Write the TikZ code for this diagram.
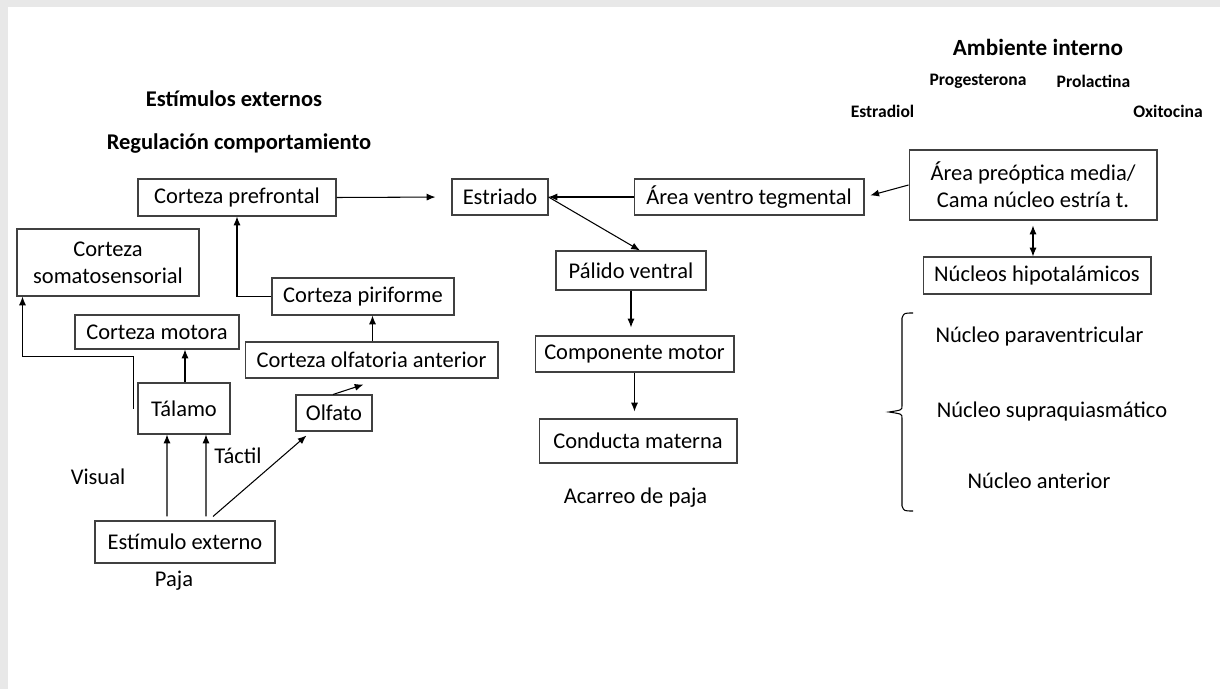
\documentclass[tikz,border=0pt]{standalone}
\usepackage{fontspec}
\setmainfont{Carlito}
\usepackage{tikz}
\usetikzlibrary{positioning, arrows.meta}

\begin{document}
\begin{tikzpicture}[
    x=0.02cm, y=-0.02cm,
    box/.style={draw=black!75, line width=0.6pt, rectangle, inner sep=0pt, align=center,
        font=\fontsize{12.8}{15.5}\selectfont},
    lbl/.style={font=\fontsize{12.8}{15.5}\selectfont},
    head/.style={font=\fontsize{12.8}{15.5}\selectfont\bfseries},
    horm/.style={font=\fontsize{10}{12}\selectfont\bfseries},
    arr/.style={-{Latex[length=5pt,width=4pt]}, line width=0.6pt},
]
\useasboundingbox (0,0) rectangle (1220,689);
\fill[black!9] (0,0) rectangle (1220,689);
\fill[white] (8,7) rectangle (1220,689);

% left side
\node[box, minimum width=3.96cm, minimum height=0.74cm] (pref) at (237,197.5) {Corteza prefrontal};
\node[box, minimum width=3.64cm, minimum height=1.34cm] (soma) at (108,262.5) {Corteza\\somatosensorial};
\node[box, minimum width=3.64cm, minimum height=0.74cm] (pir) at (363,296.5) {Corteza piriforme};
\node[box, minimum width=3.28cm, minimum height=0.68cm] (mot) at (157,332) {Corteza motora};
\node[box, minimum width=5.06cm, minimum height=0.72cm] (olfa) at (371.5,360) {Corteza olfatoria anterior};
\node[box, minimum width=1.84cm, minimum height=1.02cm] (tal) at (184,408.5) {Tálamo};
\node[box, minimum width=1.52cm, minimum height=0.72cm] (olf) at (334,413) {Olfato};
\node[box, minimum width=3.60cm, minimum height=0.84cm] (estim) at (185,542) {Estímulo externo};

% middle
\node[box, minimum width=1.92cm, minimum height=0.72cm] (estr) at (500,197) {Estriado};
\node[box, minimum width=4.60cm, minimum height=0.72cm] (avt) at (749,197) {Área ventro tegmental};
\node[box, minimum width=3.00cm, minimum height=0.78cm] (pal) at (631,270.5) {Pálido ventral};
\node[box, minimum width=3.98cm, minimum height=0.72cm] (comp) at (634.5,354) {Componente motor};
\node[box, minimum width=3.96cm, minimum height=0.88cm] (cond) at (638,441) {Conducta materna};

% right side
\node[box, minimum width=4.96cm, minimum height=1.40cm] (apm) at (1033,185) {Área preóptica media/\\Cama núcleo estría t.};
\node[box, minimum width=4.56cm, minimum height=0.74cm] (hip) at (1037,275.5) {Núcleos hipotalámicos};

% headings and labels
\node[head] (estext) at (234,99) {Estímulos externos};
\node[head] (reg) at (239,144) {Regulación comportamiento};
\node[head, font=\fontsize{13.2}{16}\selectfont\bfseries] (amb) at (1038,47) {Ambiente interno};
\node[horm] (prog) at (978,81) {Progesterona};
\node[horm] (prol) at (1093.5,81) {Prolactina};
\node[horm] (estd) at (882.5,111) {Estradiol};
\node[horm] (oxi) at (1168,111) {Oxitocina};
\node[lbl] (vis) at (98,477) {Visual};
\node[lbl] (tac) at (238,456) {Táctil};
\node[lbl] (paja) at (174,581) {Paja};
\node[lbl] (acar) at (635.5,498) {Acarreo de paja};
\node[lbl] (npv) at (1039.5,337) {Núcleo paraventricular};
\node[lbl] (nsq) at (1052,412) {Núcleo supraquiasmático};
\node[lbl] (nant) at (1039,481) {Núcleo anterior};

% connections
\draw[arr, shorten >=0.32cm] (pref.east) -- (estr.west);
\draw[arr] (avt.west) -- (estr.east);
\draw[arr] (estr.east) -- ([xshift=0.18cm]pal.north);
\draw[arr, shorten >=0.16cm] (pal.south) -- (pal.south |- comp.north);
\draw[arr, shorten >=0.14cm] (comp.south) -- (comp.south |- cond.north);
\draw[arr, shorten >=0.12cm] (apm.west) -- (avt.east);
\draw[{Latex[length=5pt,width=4pt]}-{Latex[length=5pt,width=4pt]}, line width=0.6pt, shorten <=0.1cm]
    (apm.south) -- (apm.south |- hip.north);
\draw[arr] (pir.west) -| (pref.south);
\draw[arr] ([xshift=0.02cm]olfa.north) -- ([xshift=0.02cm]olfa.north |- pir.south);
\draw[arr] ([xshift=0.02cm]tal.north) -- ([xshift=0.02cm]tal.north |- mot.south);
\draw[arr] ([xshift=-0.08cm]tal.west) -- ++(0,-52) -| ([xshift=0.12cm]soma.south west);
\draw[arr] ([xshift=-0.02cm]olf.north) -- ([shift={(-8,6)}]olfa.south);
\draw[arr] ([shift={(-18,-4)}]estim.north) -- ([xshift=-0.34cm]tal.south);
\draw[arr] ([shift={(21,-4)}]estim.north) -- ([xshift=0.44cm]tal.south);
\draw[arr] ([shift={(28,-4)}]estim.north) -- ([shift={(11,4)}]olf.south west);

% brace
\draw[line width=0.6pt] (913,313) .. controls (904,313) .. (902,318) -- (902,406)
    .. controls (902,410) .. (889,412) .. controls (902,414) .. (902,418) -- (902,506)
    .. controls (904,511) .. (913,511);
\end{tikzpicture}
\end{document}
